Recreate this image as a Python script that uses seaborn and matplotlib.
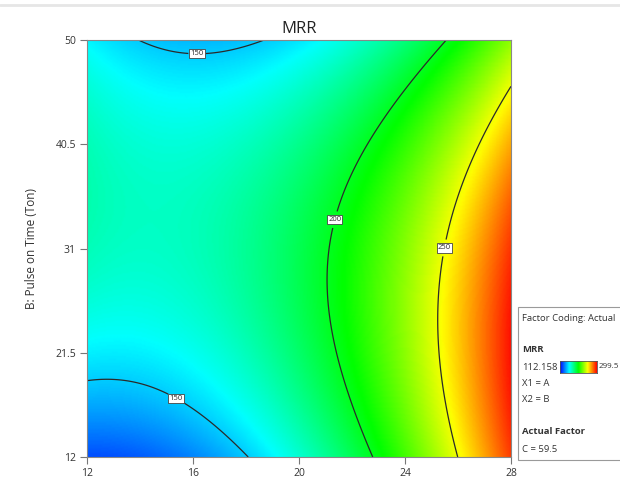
import numpy as np
import matplotlib
matplotlib.use("Agg")
import matplotlib.pyplot as plt
from matplotlib.patches import Rectangle
from matplotlib.lines import Line2D
import seaborn as sns

# ---- data -----------------------------------------------------------------
title = "MRR"
ylabel = "B: Pulse on Time (Ton)"
x_ticks = [12, 16, 20, 24, 28]
y_ticks = [12, 21.5, 31, 40.5, 50]
x_tick_labels = ["12", "16", "20", "24", "28"]
y_tick_labels = ["12", "21.5", "31", "40.5", "50"]
contour_levels = [150, 200, 250]
resp_min = 112.158
resp_max = 299.5

# points (A, B, MRR) plus extremes
pts_A = [13.69, 16.15, 18.6, 12.0, 13.0, 15.4, 17.86,
         25.35, 22.6, 21.6, 21.8, 22.8,
         28.0, 26.86, 25.5, 25.57, 26.06,
         28.0, 12.0]
pts_B = [50.0, 48.6, 50.0, 18.46, 18.76, 17.55, 12.0,
         50.0, 40.0, 31.0, 19.0, 12.0,
         46.1, 40.0, 31.0, 19.0, 12.0,
         24.5, 12.0]
pts_MRR = [150, 150, 150, 150, 150, 150, 150,
           200, 200, 200, 200, 200,
           250, 250, 250, 250, 250,
           299.5, 113.0]
pts_weight = [1, 1, 1, 2.5, 2.5, 2.5, 2.5,
              1, 1, 1, 1, 1,
              1, 1, 1, 1, 1,
              1, 1]

label_pos = [(16.15, 48.7), (15.4, 17.55), (21.55, 33.5), (25.6, 31.0)]

legend_lines = ["Factor Coding: Actual", "MRR", "X1 = A", "X2 = B",
                "Actual Factor", "C = 59.5"]

# ---- fit quadratic response surface to the read points --------------------
pa = (np.array(pts_A) - 20) / 8
pb = (np.array(pts_B) - 31) / 19
w = np.array(pts_weight, float)
M = np.column_stack([np.ones_like(pa), pa, pb, pa**2, pb**2, pa * pb])
coef, *_ = np.linalg.lstsq(M * w[:, None], np.array(pts_MRR, float) * w,
                           rcond=None)

gA = np.linspace(12, 28, 300)
gB = np.linspace(12, 50, 300)
AA, BB = np.meshgrid(gA, gB)
a = (AA - 20) / 8
b = (BB - 31) / 19
Z = (coef[0] + coef[1] * a + coef[2] * b + coef[3] * a**2 + coef[4] * b**2
     + coef[5] * a * b)

# ---- style -----------------------------------------------------------------
sns.set_theme(style="white")
plt.rcParams["font.family"] = ["Open Sans", "DejaVu Sans"]

cmap = sns.blend_palette(["#0000ff", "#00ffff", "#00ff00", "#ffff00", "#ff0000"],
                         n_colors=256, as_cmap=True)

fig = plt.figure(figsize=(6.2, 4.86), dpi=100)
ax = fig.add_axes([87 / 620, 1 - 457 / 486, 424 / 620, 417 / 486])

ax.pcolormesh(AA, BB, Z, cmap=cmap, vmin=resp_min, vmax=resp_max,
              shading="gouraud", rasterized=True)
cs = ax.contour(AA, BB, Z, levels=contour_levels, colors="#2a2a2a",
                linewidths=0.9)
labels = ax.clabel(cs, fmt="%d", fontsize=5.5, inline=True, inline_spacing=2,
                   manual=label_pos)
for t in labels:
    t.set_bbox(dict(boxstyle="square,pad=0.15", fc="white", ec="#444444",
                    lw=0.6))
    t.set_rotation(0)

ax.set_xlim(12, 28)
ax.set_ylim(12, 50)
ax.set_xticks(x_ticks)
ax.set_xticklabels(x_tick_labels)
ax.set_yticks(y_ticks)
ax.set_yticklabels(y_tick_labels)
ax.tick_params(axis="both", direction="out", length=5, width=0.8,
               color="#777777", labelsize=7.5, labelcolor="#333333",
               bottom=True, left=True, pad=3)
for s in ax.spines.values():
    s.set_color("#888888")
    s.set_linewidth(0.8)

ax.set_title(title, fontsize=12, color="#222222", pad=5)
ax.set_ylabel(ylabel, fontsize=8.5, color="#333333", labelpad=12)

# top separator line (screenshot)
fig.add_artist(Line2D([0, 1], [1 - 5 / 486, 1 - 5 / 486], color="#e6e6e6",
                      lw=2))

# ---- legend box ------------------------------------------------------------
def fx(px):
    return px / 620


def fy(py):
    return 1 - py / 486


box = Rectangle((fx(518), fy(460)), fx(120), fy(307) - fy(460),
                transform=fig.transFigure, fc="white", ec="#9a9a9a", lw=0.8,
                zorder=-1)
fig.add_artist(box)
fs = 6.8
tc = "#333333"
fig.text(fx(522), fy(318), legend_lines[0], fontsize=fs, color=tc, va="center")
fig.text(fx(522), fy(349), legend_lines[1], fontsize=fs, color=tc,
         va="center", fontweight="bold")
fig.text(fx(522), fy(367), f"{resp_min:.3f}", fontsize=fs, color=tc,
         va="center")
cax = fig.add_axes([fx(560), fy(373), fx(37), fy(361) - fy(373)])
cax.set_zorder(3)
cax.imshow(np.linspace(0, 1, 256)[None, :], aspect="auto", cmap=cmap,
           extent=[0, 1, 0, 1])
cax.set_xticks([])
cax.set_yticks([])
for s in cax.spines.values():
    s.set_color("#555555")
    s.set_linewidth(0.6)
fig.text(fx(599), fy(367), f"{resp_max:.1f}", fontsize=5.8, color=tc,
         va="center")
fig.text(fx(522), fy(384), legend_lines[2], fontsize=fs, color=tc, va="center")
fig.text(fx(522), fy(399), legend_lines[3], fontsize=fs, color=tc, va="center")
fig.text(fx(522), fy(432), legend_lines[4], fontsize=fs, color=tc,
         va="center", fontweight="bold")
fig.text(fx(522), fy(449), legend_lines[5], fontsize=fs, color=tc, va="center")

fig.savefig("out.png", dpi=100)
